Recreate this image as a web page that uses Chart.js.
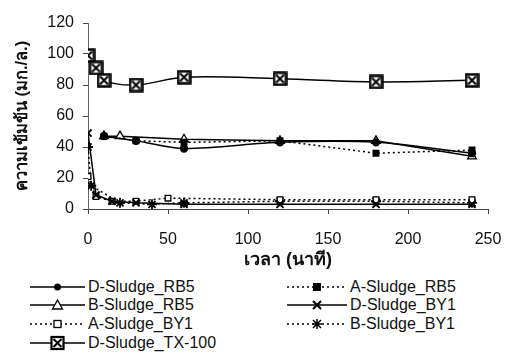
<!DOCTYPE html>
<html><head><meta charset="utf-8">
<script src="https://cdn.jsdelivr.net/npm/chart.js@4"></script>
<style>
body{margin:0;width:505px;height:358px;background:#fff;overflow:hidden;font-family:"Liberation Sans",Arial,sans-serif}
#wrap{position:absolute;left:0;top:0;width:505px;height:275px}
.item{position:absolute;display:flex;align-items:center;height:18px;font-size:16px;letter-spacing:0px;color:#111;white-space:nowrap}
.item svg{margin-right:3px}
</style></head><body>
<div id="wrap"><canvas id="c" width="505" height="275"></canvas></div>
<div id="legend"></div>
<script>
// time (minutes) and concentration (mg/L)
const tD_RB5 = [10, 30, 60, 120, 180, 240];
const vD_RB5 = [47, 44, 39, 43, 43, 36];
const tA_RB5 = [10, 30, 60, 120, 180, 240];
const vA_RB5 = [47, 44, 43, 44, 36, 38];
const tB_RB5 = [10, 20, 60, 120, 180, 240];
const vB_RB5 = [47, 47, 45, 44, 44, 34];
const tA_BY1 = [0, 5, 15, 30, 50, 120, 180, 240];
const vA_BY1 = [21, 8, 5, 5, 7, 6, 6, 6];
const tD_BY1 = [0, 5, 15, 30, 60, 120, 180, 240];
const vD_BY1 = [49, 9, 5, 4, 3, 3, 3, 3];
const tB_BY1 = [0, 2, 20, 40, 60, 120, 180, 240];
const vB_BY1 = [40, 15, 4, 3, 4, 5, 5, 4];
const tD_TX = [0, 5, 10, 30, 60, 120, 180, 240];
const vD_TX = [99, 91, 83, 80, 85, 84, 82, 83];
const seriesNames = ["D-Sludge_RB5","A-Sludge_RB5","B-Sludge_RB5","D-Sludge_BY1","A-Sludge_BY1","B-Sludge_BY1","D-Sludge_TX-100"];
const xTicks = [0, 50, 100, 150, 200, 250];
const yTicks = [0, 20, 40, 60, 80, 100, 120];
const xTitle = "เวลา (นาที)";
const yTitle = "ความเข้มข้น (มก./ล.)";

function pts(t, v){ return t.map((x,i)=>({x:x, y:v[i]})); }

// custom marker: square with X
const sq = document.createElement('canvas'); sq.width = 15; sq.height = 15;
(function(){ const g = sq.getContext('2d'); g.fillStyle='#fff'; g.fillRect(1,1,13,13);
 g.strokeStyle='#000'; g.lineWidth=2.5; g.strokeRect(1.5,1.5,12,12);
 g.lineWidth=2; g.beginPath(); g.moveTo(3.5,3.5); g.lineTo(11.5,11.5); g.moveTo(11.5,3.5); g.lineTo(3.5,11.5); g.stroke(); })();

const dot=[2,3];
const base = {borderColor:'#000', borderWidth:1.5, pointBorderColor:'#000', pointBorderWidth:1.3, fill:false};
const datasets = [
 Object.assign({}, base, {label:seriesNames[0], data:pts(tD_RB5,vD_RB5), pointStyle:'circle', pointRadius:3.5, pointBackgroundColor:'#000', tension:0.3}),
 Object.assign({}, base, {label:seriesNames[1], data:pts(tA_RB5,vA_RB5), pointStyle:'rect', pointRadius:4, pointBackgroundColor:'#000', borderDash:dot}),
 Object.assign({}, base, {label:seriesNames[2], data:pts(tB_RB5,vB_RB5), pointStyle:'triangle', pointRadius:5, pointBackgroundColor:'#fff'}),
 Object.assign({}, base, {label:seriesNames[3], data:pts(tD_BY1,vD_BY1), pointStyle:'crossRot', pointRadius:5, pointBorderWidth:2}),
 Object.assign({}, base, {label:seriesNames[4], data:pts(tA_BY1,vA_BY1), pointStyle:'rect', pointRadius:4, pointBackgroundColor:'#fff', borderDash:dot}),
 Object.assign({}, base, {label:seriesNames[5], data:pts(tB_BY1,vB_BY1), pointStyle:'star', pointRadius:5, pointBorderWidth:1.8, borderDash:dot}),
 Object.assign({}, base, {label:seriesNames[6], data:pts(tD_TX,vD_TX), pointStyle:sq, tension:0.35})
];

const fontTick = {family:'"Liberation Sans", Arial, sans-serif', size:16};
const fontTitle = {family:'"Liberation Sans","DejaVu Sans","Noto Sans",sans-serif', weight:'bold'};
new Chart(document.getElementById('c'), {
 type:'line',
 data:{datasets},
 options:{
  responsive:false, animation:false, events:[],
  layout:{padding:{top:23, right:17, left:0, bottom:0}},
  plugins:{legend:{display:false}, tooltip:{enabled:false}},
  scales:{
   x:{type:'linear', min:0, max:250,
      afterBuildTicks:s=>{s.ticks = xTicks.map(v=>({value:v}));},
      ticks:{font:fontTick, color:'#111', padding:16, maxRotation:0},
      grid:{drawOnChartArea:false, tickLength:5, color:'#444'},
      border:{color:'#444', width:1},
      title:{display:true, text:xTitle, font:Object.assign({}, fontTitle, {size:18}), color:'#111', padding:{top:4,bottom:4}},
      afterFit:s=>{s.height=66; s.paddingLeft=0; s.paddingRight=0;}},
   y:{min:0, max:120,
      afterBuildTicks:s=>{s.ticks = yTicks.map(v=>({value:v}));},
      ticks:{font:fontTick, color:'#111', padding:9},
      grid:{drawOnChartArea:false, tickLength:5, color:'#444'},
      border:{color:'#666', width:1, dash:[2,2]},
      title:{display:true, text:yTitle, font:Object.assign({}, fontTitle, {size:16.5}), color:'#111', padding:{top:13,bottom:13}},
      afterFit:s=>{s.width=88; s.paddingTop=0; s.paddingBottom=0;}}
  }
 }
});

// HTML legend
const legendPos = [[30,278,55],[287,278,60],[30,296,55],[287,296,60],[30,315,55],[287,315,60],[30,334,55]];
function markerSvg(i, c){
 switch(i){
  case 0: return '<circle cx="'+c+'" cy="9" r="3.5" fill="#000"/>';
  case 1: return '<rect x="'+(c-4)+'" y="5" width="8" height="8" fill="#000"/>';
  case 2: return '<polygon points="'+c+',4 '+(c+5)+',13 '+(c-5)+',13" fill="#fff" stroke="#000" stroke-width="1.3"/>';
  case 3: return '<path d="M'+(c-4)+',5 L'+(c+4)+',13 M'+(c+4)+',5 L'+(c-4)+',13" stroke="#000" stroke-width="2"/>';
  case 4: return '<rect x="'+(c-3.5)+'" y="5.5" width="7" height="7" fill="#fff" stroke="#000" stroke-width="1.3"/>';
  case 5: return '<path d="M'+(c-4)+',5 L'+(c+4)+',13 M'+(c+4)+',5 L'+(c-4)+',13 M'+c+',4 L'+c+',14 M'+(c-5)+',9 L'+(c+5)+',9" stroke="#000" stroke-width="1.5"/>';
  case 6: return '<rect x="'+(c-6)+'" y="3" width="12" height="12" fill="#fff" stroke="#000" stroke-width="2.2"/><path d="M'+(c-4)+',5 L'+(c+4)+',13 M'+(c+4)+',5 L'+(c-4)+',13" stroke="#000" stroke-width="2"/>';
 }
}
const dashed = [false,true,false,false,true,true,false];
const lg = document.getElementById('legend');
seriesNames.forEach((name,i)=>{
 const p = legendPos[i], w = p[2];
 const d = document.createElement('div'); d.className='item';
 d.style.left = p[0]+'px'; d.style.top = p[1]+'px';
 d.innerHTML = '<svg width="'+w+'" height="18" viewBox="0 0 '+w+' 18"><line x1="0" y1="9" x2="'+w+'" y2="9" stroke="#000" stroke-width="1.5"'+(dashed[i]?' stroke-dasharray="2 3"':'')+'/>'+markerSvg(i, w/2)+'</svg><span>'+name+'</span>';
 lg.appendChild(d);
});
</script>
</body></html>
